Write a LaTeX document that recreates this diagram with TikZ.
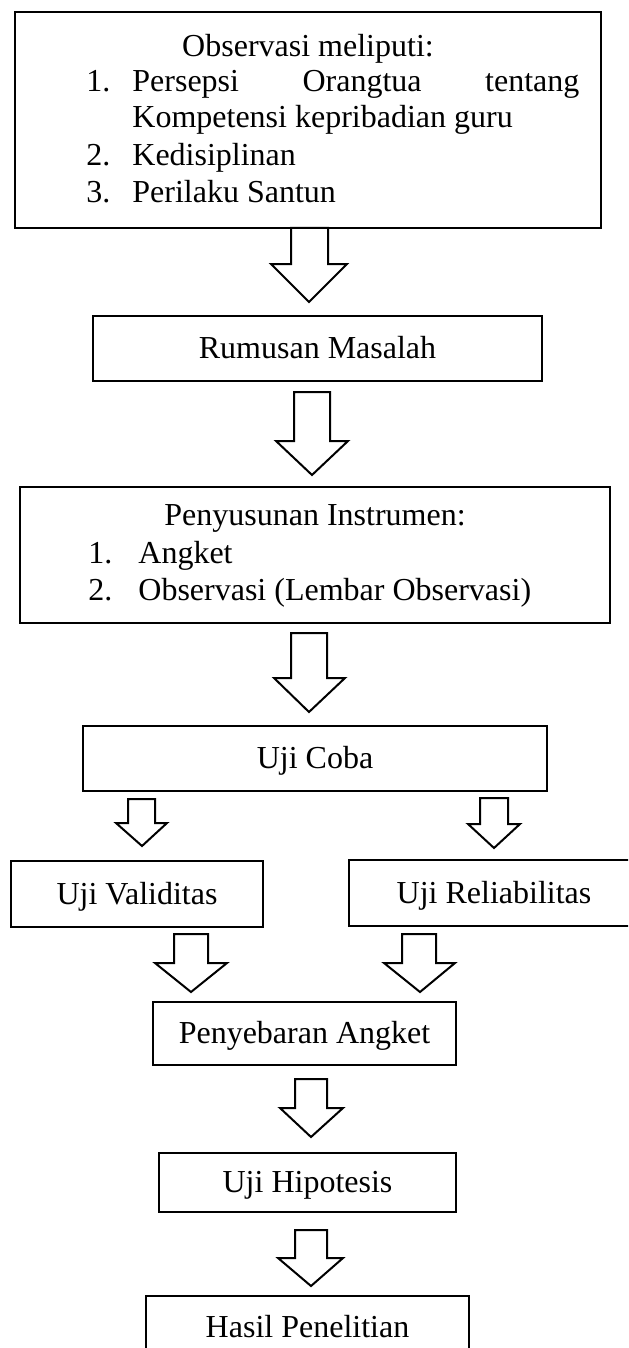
\documentclass[tikz,border=0pt]{standalone}
\usepackage{fontspec}
\setmainfont{Liberation Serif}
\tikzset{
  box/.style={draw=black, line width=1pt, fill=none, inner sep=0pt, align=center,
    font=\fontsize{16}{18}\selectfont, text height=12pt, text depth=2pt},
  txt/.style={inner sep=0pt, font=\fontsize{16}{18}\selectfont},
  barrow/.style={draw=black, line width=1pt, fill=white, line join=miter}
}
\begin{document}
\begin{tikzpicture}[x=0.5pt,y=-0.5pt]
\useasboundingbox (0,0) rectangle (628,1348);
\clip (0,0) rectangle (628,1348);
% Box 1
\node[box, minimum width=293pt, minimum height=108pt] (b1) at (308,120) {};
\node[txt, anchor=base] (t1) at (308,57) {Observasi meliputi:};
\node[txt, anchor=base west] (n11) at (86,92) {1.};
\node[txt, anchor=base west] (i11) at (132,92) {\makebox[223.5pt][l]{Persepsi\hfill Orangtua\hfill tentang}};
\node[txt, anchor=base west] (i11b) at (132,128) {Kompetensi kepribadian guru};
\node[txt, anchor=base west] (n12) at (86,166) {2.};
\node[txt, anchor=base west] (i12) at (132,166) {Kedisiplinan};
\node[txt, anchor=base west] (n13) at (86,203) {3.};
\node[txt, anchor=base west] (i13) at (132,203) {Perilaku Santun};
% Arrow 1
\draw[barrow] (291,228) -- (291,264) -- (271,264) -- (309,302) -- (347,264) -- (328,264) -- (328,228) -- cycle;
% Box 2
\node[box, minimum width=224.5pt, minimum height=32.5pt] (b2) at (317.5,348.5) {Rumusan Masalah};
% Arrow 2
\draw[barrow] (294,392) -- (294,441) -- (276,441) -- (312,475) -- (348,441) -- (330,441) -- (330,392) -- cycle;
% Box 3
\node[box, minimum width=295pt, minimum height=68pt] (b3) at (315,555) {};
\node[txt, anchor=base] (t3) at (315,525) {Penyusunan Instrumen:};
\node[txt, anchor=base west] (n31) at (88,563) {1.};
\node[txt, anchor=base west] (i31) at (138,563) {Angket};
\node[txt, anchor=base west] (n32) at (88,600) {2.};
\node[txt, anchor=base west] (i32) at (138,600) {Observasi (Lembar Observasi)};
% Arrow 3
\draw[barrow] (291,633) -- (291,678) -- (274,678) -- (309,712) -- (345,678) -- (327,678) -- (327,633) -- cycle;
% Box 4
\node[box, minimum width=232pt, minimum height=32.5pt] (b4) at (315,758.5) {Uji Coba};
% Small arrows
\draw[barrow] (128,799) -- (128,823) -- (116,823) -- (142,846) -- (167,823) -- (155,823) -- (155,799) -- cycle;
\draw[barrow] (480,798) -- (480,824) -- (468,824) -- (494,848) -- (520,824) -- (508,824) -- (508,798) -- cycle;
% Box 5, 6
\node[box, minimum width=126pt, minimum height=33pt] (b5) at (137,894) {Uji Validitas};
\node[box, minimum width=145pt, minimum height=33pt] (b6) at (494,893) {Uji Reliabilitas};
% Arrows to box 7
\draw[barrow] (174,934) -- (174,963) -- (155,963) -- (191,992) -- (227,963) -- (208,963) -- (208,934) -- cycle;
\draw[barrow] (402,934) -- (402,963) -- (384,963) -- (420,992) -- (455,963) -- (436,963) -- (436,934) -- cycle;
% Box 7
\node[box, minimum width=151.5pt, minimum height=31.5pt] (b7) at (304.5,1033.5) {Penyebaran Angket};
% Arrow 8
\draw[barrow] (295,1079) -- (295,1108) -- (280,1108) -- (311,1137) -- (343,1108) -- (327,1108) -- (327,1079) -- cycle;
% Box 8
\node[box, minimum width=148.5pt, minimum height=29.5pt] (b8) at (307.5,1182.5) {Uji Hipotesis};
% Arrow 9
\draw[barrow] (295,1230) -- (295,1258) -- (278,1258) -- (311,1286) -- (343,1258) -- (327,1258) -- (327,1230) -- cycle;
% Box 9
\node[box, minimum width=161.5pt, minimum height=31pt] (b9) at (307.5,1327) {Hasil Penelitian};
\end{tikzpicture}
\end{document}
